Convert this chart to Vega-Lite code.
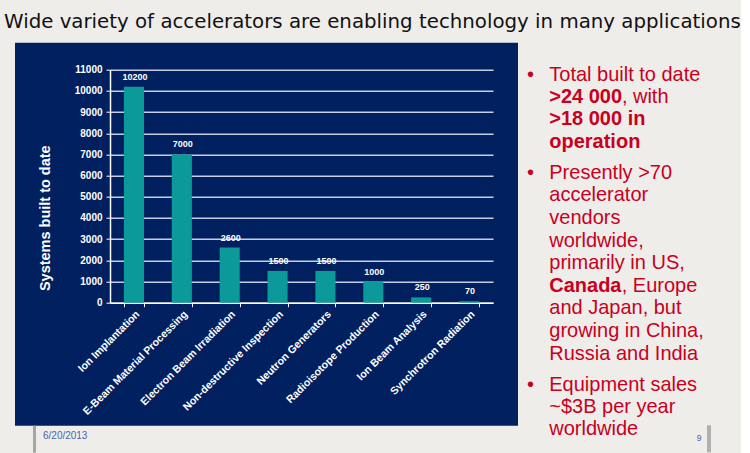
{
  "$schema": "https://vega.github.io/schema/vega-lite/v6.json",
  "background": "#efedea",
  "padding": {"left": 4, "top": 11.7, "right": 0, "bottom": 0},
  "spacing": 9,
  "title": {
    "text": "Wide variety of accelerators are enabling technology in many applications",
    "anchor": "start",
    "frame": "group",
    "font": "DejaVu Sans",
    "fontSize": 19.8,
    "fontWeight": "normal",
    "color": "#111111",
    "baseline": "alphabetic",
    "dx": -11,
    "offset": -5.3
  },
  "config": {
    "font": "Liberation Sans",
    "view": {"stroke": null},
    "axis": {"labelFont": "Liberation Sans", "titleFont": "Liberation Sans"}
  },
  "datasets": {
    "systems": [
      {"application": "Ion Implantation", "systems": 10200},
      {"application": "E-Beam Material Processing", "systems": 7000},
      {"application": "Electron Beam Irradiation", "systems": 2600},
      {"application": "Non-destructive Inspection", "systems": 1500},
      {"application": "Neutron Generators", "systems": 1500},
      {"application": "Radioisotope Production", "systems": 1000},
      {"application": "Ion Beam Analysis", "systems": 250},
      {"application": "Synchrotron Radiation", "systems": 70}
    ],
    "bullets": [
      {"point": 1, "line": 1, "run": 0, "segment": "marker", "emphasis": "none", "text": "•"},
      {"point": 1, "line": 1, "run": 1, "segment": "body", "emphasis": "none", "text": "Total built to date"},
      {"point": 1, "line": 2, "run": 1, "segment": "body", "emphasis": "strong", "text": ">24 000"},
      {"point": 1, "line": 2, "run": 2, "segment": "body", "emphasis": "none", "text": ", with"},
      {"point": 1, "line": 3, "run": 1, "segment": "body", "emphasis": "strong", "text": ">18 000 in"},
      {"point": 1, "line": 4, "run": 1, "segment": "body", "emphasis": "strong", "text": "operation"},
      {"point": 2, "line": 1, "run": 0, "segment": "marker", "emphasis": "none", "text": "•"},
      {"point": 2, "line": 1, "run": 1, "segment": "body", "emphasis": "none", "text": "Presently >70"},
      {"point": 2, "line": 2, "run": 1, "segment": "body", "emphasis": "none", "text": "accelerator"},
      {"point": 2, "line": 3, "run": 1, "segment": "body", "emphasis": "none", "text": "vendors"},
      {"point": 2, "line": 4, "run": 1, "segment": "body", "emphasis": "none", "text": "worldwide,"},
      {"point": 2, "line": 5, "run": 1, "segment": "body", "emphasis": "none", "text": "primarily in US,"},
      {"point": 2, "line": 6, "run": 1, "segment": "body", "emphasis": "strong", "text": "Canada"},
      {"point": 2, "line": 6, "run": 2, "segment": "body", "emphasis": "none", "text": ", Europe"},
      {"point": 2, "line": 7, "run": 1, "segment": "body", "emphasis": "none", "text": "and Japan, but"},
      {"point": 2, "line": 8, "run": 1, "segment": "body", "emphasis": "none", "text": "growing in China,"},
      {"point": 2, "line": 9, "run": 1, "segment": "body", "emphasis": "none", "text": "Russia and India"},
      {"point": 3, "line": 1, "run": 0, "segment": "marker", "emphasis": "none", "text": "•"},
      {"point": 3, "line": 1, "run": 1, "segment": "body", "emphasis": "none", "text": "Equipment sales"},
      {"point": 3, "line": 2, "run": 1, "segment": "body", "emphasis": "none", "text": "~$3B per year"},
      {"point": 3, "line": 3, "run": 1, "segment": "body", "emphasis": "none", "text": "worldwide"}
    ]
  },
  "hconcat": [
    {
      "bounds": "flush",
      "spacing": 0,
      "vconcat": [
        {
          "width": 503,
          "height": 383,
          "data": {"name": "systems"},
          "view": {"fill": "#002060", "stroke": null},
          "layer": [
            {
              "mark": {"type": "bar", "color": "#0b9a99"},
              "encoding": {
                "x": {
                  "field": "application", "type": "nominal", "sort": null,
                  "scale": {"range": [95, 478], "paddingInner": 0.58, "paddingOuter": 0.29},
                  "axis": {
                    "offset": -123, "title": null, "labelAngle": -45,
                    "labelColor": "white", "labelFontSize": 10.6, "labelFontWeight": "bold",
                    "labelPadding": 2, "labelLimit": 300,
                    "domainColor": "white", "domainWidth": 1.5,
                    "tickColor": "white", "tickWidth": 1, "tickSize": 4, "tickBand": "extent",
                    "grid": false
                  }
                },
                "y": {
                  "field": "systems", "type": "quantitative",
                  "scale": {"domain": [0, 11000], "range": [260, 27], "nice": false, "zero": true},
                  "axis": {
                    "offset": -95,
                    "values": [0, 1000, 2000, 3000, 4000, 5000, 6000, 7000, 8000, 9000, 10000, 11000],
                    "tickCount": 24,
                    "labelOverlap": false,
                    "format": "d",
                    "labelColor": "white", "labelFontSize": 10, "labelFontWeight": "bold", "labelPadding": 4,
                    "domainColor": "white", "domainWidth": 1.5,
                    "tickColor": "white", "tickSize": 4, "tickWidth": 1,
                    "grid": true, "gridColor": "#c8cde3", "gridWidth": 1.5,
                    "title": "Systems built to date",
                    "titleColor": "white", "titleFontSize": 14.5, "titleFontWeight": "bold",
                    "titleAngle": -90, "titleX": -65, "titleY": 175,
                    "titleAlign": "center", "titleBaseline": "middle"
                  }
                }
              }
            },
            {
              "mark": {"type": "text", "color": "white", "fontSize": 9, "fontWeight": "bold", "baseline": "alphabetic", "dy": -7, "dx": 1},
              "encoding": {
                "x": {"field": "application", "type": "nominal", "sort": null},
                "y": {"field": "systems", "type": "quantitative"},
                "text": {"field": "systems", "type": "quantitative", "format": "d"}
              }
            }
          ]
        },
        {
          "width": 503,
          "height": 27,
          "data": {"values": [{"item": "divider"}, {"item": "date", "label": "6/20/2013"}]},
          "layer": [
            {
              "transform": [{"filter": "datum.item === 'divider'"}],
              "mark": {"type": "rule", "color": "#a6a6a6", "strokeWidth": 3},
              "encoding": {
                "x": {"field": "item", "type": "nominal", "scale": {"type": "point", "domain": ["divider", "date"], "range": [19.5, 28], "padding": 0}, "axis": null}
              }
            },
            {
              "transform": [{"filter": "datum.item === 'date'"}],
              "mark": {"type": "text", "align": "left", "baseline": "alphabetic", "fontSize": 10, "color": "#4466aa"},
              "encoding": {
                "x": {"field": "item", "type": "nominal", "scale": {"type": "point", "domain": ["divider", "date"], "range": [19.5, 28], "padding": 0}, "axis": null},
                "text": {"field": "label"}
              }
            }
          ]
        }
      ]
    },
    {
      "bounds": "flush",
      "spacing": 8.8,
      "vconcat": [
        {
          "width": 200,
          "height": 110,
          "data": {"name": "bullets"},
          "transform": [{"filter": "datum.point === 1"}],
          "encoding": {
            "x": {"field": "segment", "type": "nominal", "scale": {"type": "point", "domain": ["marker", "body"], "range": [0, 22.3], "padding": 0}, "axis": null},
            "y": {"field": "line", "type": "ordinal", "scale": {"type": "band", "domain": [1, 2, 3, 4], "range": [21, 110.2], "paddingInner": 0, "paddingOuter": 0}, "axis": null},
            "text": {"field": "text"}
          },
          "layer": [
            {"transform": [{"filter": "datum.emphasis === 'none' && datum.run !== 2"}], "mark": {"type": "text", "align": "left", "baseline": "middle", "fontSize": 20, "color": "#c8001e"}},
            {"transform": [{"filter": "datum.emphasis === 'strong'"}], "mark": {"type": "text", "align": "left", "baseline": "middle", "fontSize": 20, "fontWeight": "bold", "color": "#c8001e"}},
            {"transform": [{"filter": "datum.run === 2"}], "mark": {"type": "text", "align": "left", "baseline": "middle", "fontSize": 20, "color": "#c8001e", "dx": 72.6}}
          ]
        },
        {
          "width": 200,
          "height": 203.4,
          "data": {"name": "bullets"},
          "transform": [{"filter": "datum.point === 2"}],
          "encoding": {
            "x": {"field": "segment", "type": "nominal", "scale": {"type": "point", "domain": ["marker", "body"], "range": [0, 22.3], "padding": 0}, "axis": null},
            "y": {"field": "line", "type": "ordinal", "scale": {"type": "band", "domain": [1, 2, 3, 4, 5, 6, 7, 8, 9], "range": [0, 203.4], "paddingInner": 0, "paddingOuter": 0}, "axis": null},
            "text": {"field": "text"}
          },
          "layer": [
            {"transform": [{"filter": "datum.emphasis === 'none' && datum.run !== 2"}], "mark": {"type": "text", "align": "left", "baseline": "middle", "fontSize": 20, "color": "#c8001e"}},
            {"transform": [{"filter": "datum.emphasis === 'strong'"}], "mark": {"type": "text", "align": "left", "baseline": "middle", "fontSize": 20, "fontWeight": "bold", "color": "#c8001e"}},
            {"transform": [{"filter": "datum.run === 2"}], "mark": {"type": "text", "align": "left", "baseline": "middle", "fontSize": 20, "color": "#c8001e", "dx": 72.4}}
          ]
        },
        {
          "width": 200,
          "height": 79,
          "resolve": {"scale": {"x": "independent"}},
          "layer": [
            {
              "data": {"name": "bullets"},
              "transform": [{"filter": "datum.point === 3"}],
              "mark": {"type": "text", "align": "left", "baseline": "middle", "fontSize": 20, "color": "#c8001e"},
              "encoding": {
                "x": {"field": "segment", "type": "nominal", "scale": {"type": "point", "domain": ["marker", "body"], "range": [0, 22.3], "padding": 0}, "axis": null},
                "y": {"field": "line", "type": "ordinal", "scale": {"type": "band", "domain": [1, 2, 3], "range": [0, 66], "paddingInner": 0, "paddingOuter": 0}, "axis": null},
                "text": {"field": "text"}
              }
            },
            {
              "data": {"values": [{"item": "page", "line": 3, "label": "9"}]},
              "mark": {"type": "text", "align": "center", "baseline": "middle", "fontSize": 8.5, "color": "#4466aa"},
              "encoding": {
                "x": {"field": "item", "type": "nominal", "scale": {"type": "point", "domain": ["page", "divider"], "range": [172, 182], "padding": 0}, "axis": null},
                "y": {"field": "line", "type": "ordinal", "bandPosition": 0.886, "axis": null},
                "text": {"field": "label"}
              }
            },
            {
              "data": {"values": [{"item": "divider", "line": 3}]},
              "mark": {"type": "rule", "color": "#b0b0b0", "strokeWidth": 4},
              "encoding": {
                "x": {"field": "item", "type": "nominal", "scale": {"type": "point", "domain": ["page", "divider"], "range": [172, 182], "padding": 0}, "axis": null},
                "y": {"field": "line", "type": "ordinal", "bandPosition": 0.32, "axis": null},
                "y2": {"field": "line", "bandPosition": 1.545}
              }
            }
          ]
        }
      ]
    }
  ]
}
